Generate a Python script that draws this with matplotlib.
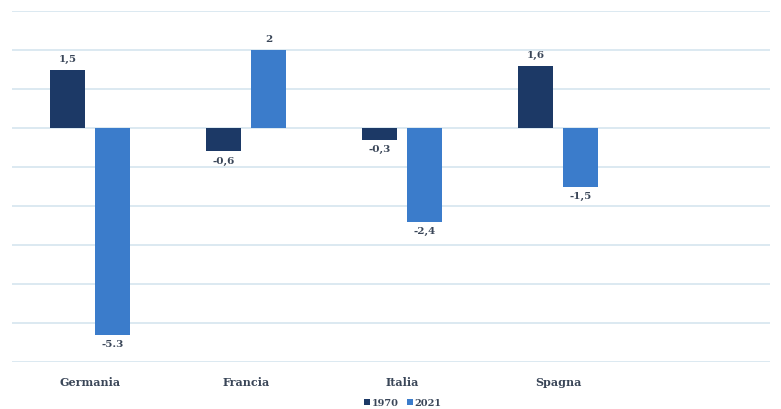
import numpy as np
import matplotlib
matplotlib.use("Agg")
import matplotlib.pyplot as plt
from matplotlib.patches import Patch

plt.rcParams.update({"font.family": "DejaVu Serif"})

paesi = ["Germania", "Francia", "Italia", "Spagna"]
val_1970 = [1.5, -0.6, -0.3, 1.6]
val_2021 = [-5.3, 2.0, -2.4, -1.5]
lab_1970 = ["1,5", "-0,6", "-0,3", "1,6"]
lab_2021 = ["-5.3", "2", "-2,4", "-1,5"]

C_DARK = "#1c3966"
C_LIGHT = "#3b7ccb"
C_GRID = "#d5e5ef"
C_TEXT = "#3a4658"

fig = plt.figure(figsize=(7.81, 4.09), dpi=100)
ax = fig.add_axes([12 / 781, 1 - 362 / 409, 758 / 781, 351 / 409])

x = np.arange(len(paesi))
w = 0.224
off = 0.144
b1 = ax.bar(x - off, val_1970, width=w, color=C_DARK, zorder=3)
b2 = ax.bar(x + off, val_2021, width=w, color=C_LIGHT, zorder=3)

for bars, labs in ((b1, lab_1970), (b2, lab_2021)):
    for bar, lab in zip(bars, labs):
        v = bar.get_height()
        xc = bar.get_x() + bar.get_width() / 2
        if v >= 0:
            ax.annotate(lab, (xc, v), xytext=(0, 4), textcoords="offset points",
                        ha="center", va="bottom", fontsize=7.5, color=C_TEXT, fontweight="bold")
        else:
            ax.annotate(lab, (xc, v), xytext=(0, -4), textcoords="offset points",
                        ha="center", va="top", fontsize=7.5, color=C_TEXT, fontweight="bold")

ax.set_xlim(-0.5, -0.5 + 758 / 156)
ax.set_ylim(-6, 3)
ax.set_yticks(np.arange(-6, 4, 1))
ax.yaxis.grid(True, color=C_GRID, lw=1.2, zorder=0)
ax.tick_params(left=False, bottom=False, labelleft=False)
ax.set_xticks(x)
ax.set_xticklabels(paesi, fontsize=8, color=C_TEXT, fontweight="bold")
ax.tick_params(axis="x", pad=7)
for s in ax.spines.values():
    s.set_visible(False)

handles = [Patch(facecolor=C_DARK, label="1970"), Patch(facecolor=C_LIGHT, label="2021")]
leg = fig.legend(handles=handles, loc="center", bbox_to_anchor=(403 / 781, 1 - 403 / 409),
                 ncol=2, frameon=False, fontsize=7, handlelength=0.6, handleheight=0.6,
                 handletextpad=0.2, columnspacing=0.8)
for t in leg.get_texts():
    t.set_color(C_TEXT)
    t.set_fontweight("bold")

fig.savefig("out.png", dpi=100)
